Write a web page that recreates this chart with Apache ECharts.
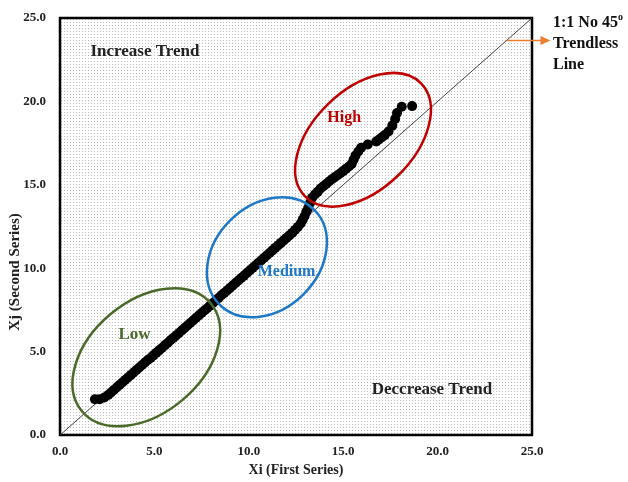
<!DOCTYPE html>
<html>
<head>
<meta charset="utf-8">
<script src="https://cdn.jsdelivr.net/npm/echarts@6/dist/echarts.min.js"></script>
<style>html,body{margin:0;padding:0;background:#fff;}#c{width:628px;height:482px;}</style>
</head>
<body>
<div id="c"></div>
<script>
// ---- data ----
const xTicks = [0, 5, 10, 15, 20, 25];
const yTicks = [0, 5, 10, 15, 20, 25];
const xi = [1.85,2.1,2.35,2.55,2.7,2.85,3.0,3.15,3.3,3.45,3.6,3.75,3.9,4.05,4.2,4.35,4.5,4.65,4.8,4.95,5.1,5.25,5.4,5.55,5.7,5.85,6.0,6.15,6.3,6.45,6.6,6.75,6.9,7.05,7.2,7.35,7.5,7.65,7.8,7.95,8.1,8.25,8.4,8.55,8.7,8.85,9.0,9.15,9.3,9.45,9.6,9.75,9.9,10.05,10.2,10.35,10.5,10.65,10.8,10.95,11.1,11.25,11.4,11.55,11.7,11.85,12.0,12.15,12.3,12.45,12.6,12.75,12.85,12.95,13.05,13.15,13.25,13.35,13.5,13.65,13.8,13.95,14.1,14.25,14.4,14.55,14.7,14.85,15.0,15.15,15.3,15.45,15.55,15.65,15.8,15.95,16.3,16.75,16.9,17.05,17.2,17.4,17.6,17.75,17.85,18.1,18.65];
const xj = [2.15,2.15,2.25,2.4,2.55,2.7,2.85,3.0,3.15,3.3,3.45,3.6,3.75,3.9,4.05,4.2,4.35,4.5,4.62,4.78,4.93,5.08,5.22,5.38,5.52,5.68,5.82,5.97,6.12,6.27,6.42,6.57,6.72,6.87,7.02,7.17,7.32,7.47,7.6,7.76,7.92,8.07,8.22,8.38,8.52,8.67,8.82,8.97,9.12,9.27,9.42,9.56,9.72,9.87,10.02,10.17,10.32,10.47,10.62,10.77,10.92,11.07,11.22,11.37,11.52,11.67,11.82,11.97,12.12,12.3,12.48,12.68,12.9,13.12,13.38,13.62,13.92,14.22,14.42,14.58,14.78,14.92,15.05,15.2,15.33,15.45,15.58,15.7,15.82,15.97,16.1,16.25,16.5,16.75,17.0,17.22,17.42,17.6,17.72,17.85,17.98,18.2,18.55,18.95,19.3,19.68,19.72];
const diagX = [0, 25];
const diagY = [0, 25];

const pts = xi.map((v, i) => [v, xj[i]]);

// dotted plot background
const pc = document.createElement('canvas');
pc.width = 3; pc.height = 3;
const pctx = pc.getContext('2d');
pctx.fillStyle = '#ffffff'; pctx.fillRect(0, 0, 3, 3);
pctx.fillStyle = '#bdbdbd'; pctx.fillRect(1, 1, 1, 1);

const serif = '"Liberation Serif", "DejaVu Serif", serif';
const chart = echarts.init(document.getElementById('c'), null, {renderer: 'canvas'});

const axisCommon = {
  type: 'value', min: 0, max: 25, interval: 5,
  axisLine: {show: false}, axisTick: {show: false}, splitLine: {show: false},
};

chart.setOption({
  animation: false,
  backgroundColor: '#fff',
  grid: {
    left: 60, right: 96, top: 18, bottom: 46, show: true,
    borderColor: '#000', borderWidth: 2.5,
    backgroundColor: {image: pc, repeat: 'repeat'}
  },
  xAxis: Object.assign({}, axisCommon, {
    name: 'Xi (First Series)', nameLocation: 'middle', nameGap: 26,
    nameTextStyle: {fontFamily: serif, fontWeight: 'bold', fontSize: 14, color: '#222'},
    axisLabel: {margin: 10, fontFamily: serif, fontWeight: 'bold', fontSize: 13, color: '#222',
      formatter: v => xTicks.includes(v) ? v.toFixed(1) : ''}
  }),
  yAxis: Object.assign({}, axisCommon, {
    axisLabel: {margin: 14, fontFamily: serif, fontWeight: 'bold', fontSize: 13, color: '#222',
      formatter: v => yTicks.includes(v) ? v.toFixed(1) : ''}
  }),
  series: [
    {type: 'line', data: diagX.map((v, i) => [v, diagY[i]]), symbol: 'none',
     lineStyle: {color: '#444', width: 1}, z: 2},
    {type: 'scatter', data: pts, symbol: 'circle', symbolSize: 10,
     itemStyle: {color: '#000', opacity: 1}, z: 3}
  ]
});

// annotations anchored in data coordinates
function px(x, y) { return chart.convertToPixel({gridIndex: 0}, [x, y]); }
const ellipses = [
  {c: [4.57, 4.67], rx: 84, ry: 56, rot: 40, color: '#4a6a2a'},
  {c: [10.96, 10.66], rx: 67, ry: 52, rot: 45, color: '#1e78c8'},
  {c: [16.05, 17.7], rx: 81, ry: 50, rot: 44, color: '#c00000'}
];
const labels = [
  {t: 'Increase Trend', p: [4.5, 23.0], color: '#222', size: 17},
  {t: 'Deccrease Trend', p: [19.7, 2.75], color: '#222', size: 17},
  {t: 'High', p: [15.05, 19.0], color: '#c00000', size: 16},
  {t: 'Medium', p: [12.0, 9.8], color: '#1e78c8', size: 16},
  {t: 'Low', p: [3.95, 6.05], color: '#4a6a2a', size: 17}
];
const g = [];
ellipses.forEach(e => {
  const p = px(e.c[0], e.c[1]);
  g.push({type: 'ellipse', x: p[0], y: p[1], rotation: e.rot * Math.PI / 180,
    shape: {cx: 0, cy: 0, rx: e.rx, ry: e.ry},
    style: {fill: 'none', stroke: e.color, lineWidth: 2.5}, z: 10});
});
labels.forEach(l => {
  const p = px(l.p[0], l.p[1]);
  g.push({type: 'text', x: p[0], y: p[1], z: 11,
    style: {text: l.t, fill: l.color, font: 'bold ' + l.size + 'px ' + serif,
      textAlign: 'center', textVerticalAlign: 'middle'}});
});
// y-axis title
g.push({type: 'text', x: 15, y: 272, rotation: Math.PI / 2, z: 11,
  style: {text: 'Xj (Second Series)', fill: '#222', font: 'bold 15px ' + serif,
    textAlign: 'center', textVerticalAlign: 'middle'}});
// arrow + 1:1 label
const a0 = px(23.65, 23.65);
g.push({type: 'line', z: 11, shape: {x1: a0[0], y1: a0[1], x2: a0[0] + 36, y2: a0[1]},
  style: {stroke: '#ed7d31', lineWidth: 1.5}});
g.push({type: 'polygon', z: 11, shape: {points: [[a0[0] + 34, a0[1] - 4.5], [a0[0] + 44, a0[1]], [a0[0] + 34, a0[1] + 4.5]]},
  style: {fill: '#ed7d31'}});
g.push({type: 'text', x: 553, y: 12, z: 11,
  style: {text: '1:1 No 45{sup|o}\nTrendless\nLine', fill: '#111', font: 'bold 16px ' + serif,
    lineHeight: 21, textAlign: 'left', textVerticalAlign: 'top',
    rich: {sup: {fontSize: 10, fontWeight: 'bold', fontFamily: serif, verticalAlign: 'top', padding: [0, 0, 8, 0]}}}});
chart.setOption({graphic: g});
</script>
</body>
</html>
